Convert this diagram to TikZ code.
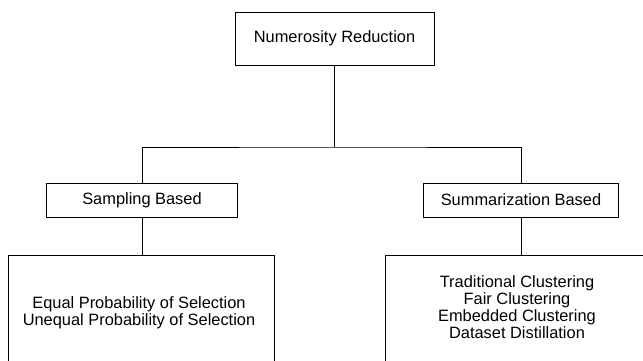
\documentclass[tikz,border=0pt]{standalone}
\usepackage{fontspec}
\setmainfont{Liberation Sans}
\begin{document}
\begin{tikzpicture}[x=1pt,y=-1pt,
  every node/.style={font=\fontsize{16.4}{16.8}\selectfont, inner sep=0pt},
  box/.style={draw=black, line width=1pt, rectangle, fill=white},
  link/.style={draw=black, line width=1pt}]
\useasboundingbox (0,0) rectangle (643,360);
\clip (0,0) rectangle (643,360);
\fill[white] (0,0) rectangle (643,360);

% tree boxes
\node[box, minimum width=199pt, minimum height=53pt] (root) at (334.5,38.5) {Numerosity Reduction};
\node[box, minimum width=191pt, minimum height=34pt] (samp) at (142,200) {Sampling Based};
\node[box, minimum width=195pt, minimum height=34pt] (summ) at (521,200) {Summarization Based};

% leaf boxes run past the lower edge
\node[box, minimum width=266pt, minimum height=130pt] (lbox) at (141,320) {};
\node[box, minimum width=265pt, minimum height=130pt] (rbox) at (517.5,320) {};
\node[align=center] (ltext) at (139,313) {Equal Probability of Selection\\Unequal Probability of Selection};
\node[align=center] (rtext) at (517,307) {Traditional Clustering\\Fair Clustering\\Embedded Clustering\\Dataset Distillation};

% connectors
\coordinate (j) at (root.south |- 0,147);
\draw[link] (root.south) -- (j);
\draw[link] (samp.north) |- (j) -| (summ.north);
\draw[link] (samp.south) -- (lbox.north -| samp.south);
\draw[link] (summ.south) -- (rbox.north -| summ.south);
\end{tikzpicture}
\end{document}
